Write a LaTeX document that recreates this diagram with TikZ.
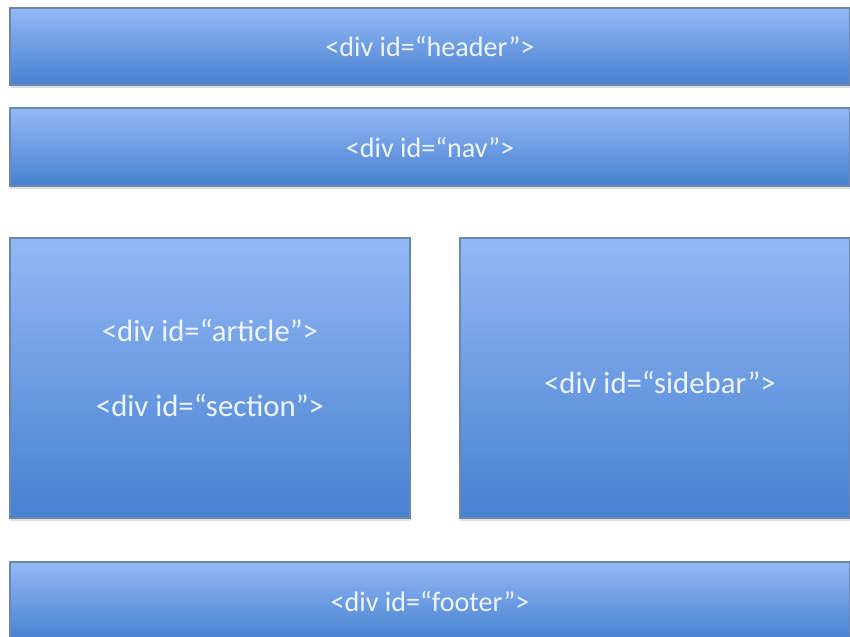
\documentclass[tikz,border=0pt]{standalone}
\usepackage{fontspec}
\setmainfont{Carlito}
\usepackage{xcolor}
\usetikzlibrary{shadows}

\definecolor{boxtop}{HTML}{93B8F5}
\definecolor{boxbottom}{HTML}{4781D0}
\definecolor{boxline}{HTML}{6C86AE}
\definecolor{labeltext}{HTML}{EEF4FF}

\tikzset{
  divbox/.style={rectangle, draw=boxline, line width=0.6pt,
    top color=boxtop, bottom color=boxbottom,
    drop shadow={opacity=0.25, shadow xshift=0pt, shadow yshift=-1.5pt},
    text=labeltext, font=\fontsize{16}{19}\selectfont, inner sep=0pt},
  divlabel/.style={text=labeltext, font=\fontsize{17.5}{21}\selectfont}
}

\begin{document}
\begin{tikzpicture}
\useasboundingbox[fill=white] (0,0) rectangle (17,-12.72);
% top rows
\node[divbox, minimum width=16.8cm, minimum height=1.54cm] (header) at (8.6,-0.93) {<div id=“header”>};
\node[divbox, minimum width=16.8cm, minimum height=1.56cm] (nav) at (8.6,-2.94) {<div id=“nav”>};
% middle columns
\node[divbox, minimum width=8cm, minimum height=5.6cm] (article) at (4.2,-7.56) {};
\node[divbox, minimum width=7.8cm, minimum height=5.6cm] (sidebar) at (13.1,-7.56) {};
\node[divlabel] (articlelabel) at (4.2,-6.62) {<div id=“article”>};
\node[divlabel] (sectionlabel) at (4.2,-8.12) {<div id=“section”>};
\node[divlabel] (sidebarlabel) at (13.2,-7.66) {<div id=“sidebar”>};
% bottom row
\node[divbox, minimum width=16.8cm, minimum height=1.56cm] (footer) at (8.6,-12.02) {<div id=“footer”>};
\end{tikzpicture}
\end{document}
